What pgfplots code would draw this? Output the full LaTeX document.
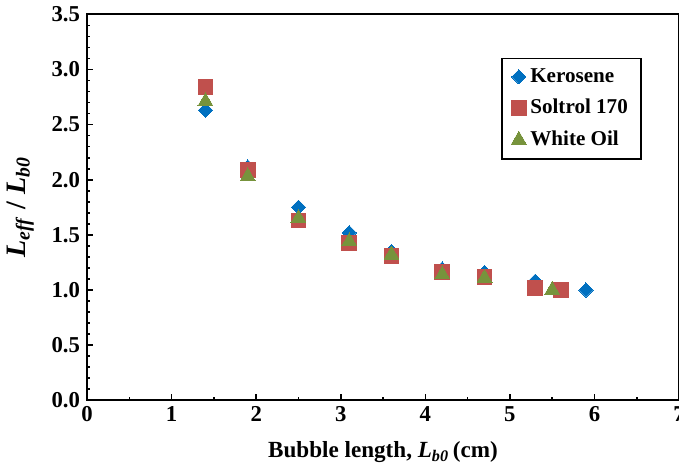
\documentclass[border=0pt]{standalone}
\usepackage{fontspec}
\setmainfont{Liberation Serif}
\usepackage{pgfplots}
\pgfplotsset{compat=1.18}
\definecolor{kblue}{RGB}{0,112,192}
\definecolor{sred}{RGB}{192,80,77}
\definecolor{wgreen}{RGB}{119,147,60}
\begin{document}
\begin{tikzpicture}[trim axis right]
\begin{axis}[
  width=294.5pt, height=192pt, scale only axis,
  xmin=0, xmax=7, ymin=0, ymax=3.5,
  xtick={0,1,...,7}, ytick={0,0.5,...,3.5},
  minor x tick num=1, minor y tick num=4,
  tick align=inside, xtick pos=bottom, ytick pos=left,
  major tick length=3pt, minor tick length=1.6pt,
  axis line style={line width=1pt},
  every tick/.style={black, line width=0.8pt},
  tick label style={font=\fontsize{11.3}{13}\selectfont\bfseries},
  /pgf/number format/assume math mode=true,
  yticklabel style={/pgf/number format/.cd, fixed, fixed zerofill, precision=1},
  xticklabel style={yshift=0.5pt, /pgf/number format/.cd, fixed, precision=0},
  xlabel style={font=\fontsize{11.5}{13}\selectfont\bfseries, yshift=-3pt},
  ylabel style={font=\fontsize{14}{16}\selectfont\bfseries, yshift=2pt},
  xlabel={Bubble length, \textit{L}\textsubscript{\textit{b0}}\,(cm)},
  ylabel={\textit{L}\textsubscript{\textit{eff}} / \textit{L}\textsubscript{\textit{b0}}},
  legend style={at={(0.937,0.888)}, anchor=north east, draw=black, line width=0.8pt,
    font=\fontsize{10.5}{12}\selectfont\bfseries, row sep=3pt, inner xsep=4.5pt, inner ysep=3pt},
  legend cell align=left,
]
\addplot[only marks, mark=square*, mark size=2.5pt, mark options={rotate=45, draw=kblue, fill=kblue, line width=0pt}]
 coordinates {(1.4,2.63) (1.9,2.115) (2.5,1.75) (3.1,1.52) (3.6,1.35) (4.2,1.19) (4.7,1.16) (5.3,1.08) (5.9,1.00)};
\addlegendentry{Kerosene}
\addplot[only marks, mark=square*, mark size=3.7pt, mark options={draw=sred, fill=sred, line width=0pt}]
 coordinates {(1.4,2.84) (1.9,2.09) (2.5,1.63) (3.1,1.43) (3.6,1.31) (4.2,1.16) (4.7,1.12) (5.3,1.02) (5.6,1.00)};
\addlegendentry{Soltrol 170}
\addplot[only marks, mark=triangle*, mark size=4.3pt, mark options={draw=wgreen, fill=wgreen, line width=0pt}]
 coordinates {(1.4,2.71) (1.9,2.03) (2.5,1.65) (3.1,1.44) (3.6,1.32) (4.2,1.14) (4.7,1.11) (5.5,1.00)};
\addlegendentry{White Oil}
\end{axis}
\end{tikzpicture}
\end{document}
